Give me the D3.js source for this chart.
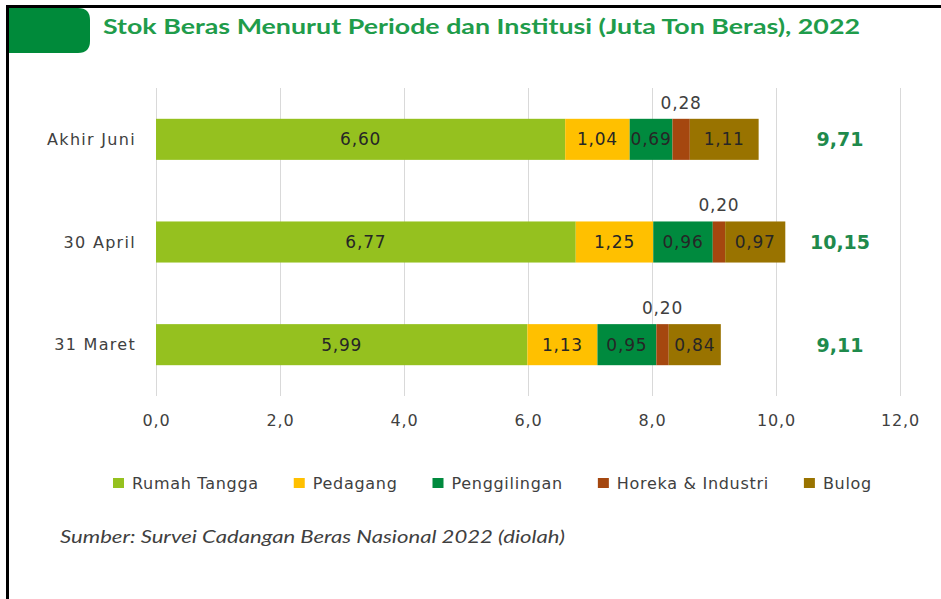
<!DOCTYPE html>
<html>
<head>
<meta charset="utf-8">
<script src="https://cdn.jsdelivr.net/npm/d3@7"></script>
<style>
  body { margin: 0; background: #fff; }
  svg text { font-family: "DejaVu Sans", sans-serif; }
</style>
</head>
<body>
<div id="content"></div>
<script>
// data
var periods = ["Akhir Juni", "30 April", "31 Maret"];
var series = ["Rumah Tangga", "Pedagang", "Penggilingan", "Horeka & Industri", "Bulog"];
var colors = ["#95c11f", "#ffc000", "#008a3e", "#a5470f", "#997300"];
var rumahTangga = [6.60, 6.77, 5.99];
var pedagang = [1.04, 1.25, 1.13];
var penggilingan = [0.69, 0.96, 0.95];
var horeka = [0.28, 0.20, 0.20];
var bulog = [1.11, 0.97, 0.84];
var totals = [9.71, 10.15, 9.11];
var xTicks = [0, 2, 4, 6, 8, 10, 12];

var w = 941, h = 599;
var svg = d3.select("#content").append("svg")
    .attr("width", w)
    .attr("height", h);

var fmt = function(v, d) { return v.toFixed(d).replace(".", ","); };

// frame + title tab
svg.append("line").attr("x1", 7.5).attr("x2", w).attr("y1", 6.5).attr("y2", 6.5)
   .attr("stroke", "#000").attr("stroke-width", 3);
svg.append("line").attr("x1", 7.5).attr("x2", 7.5).attr("y1", 5).attr("y2", h)
   .attr("stroke", "#000").attr("stroke-width", 3);
svg.append("path")
   .attr("d", "M9,8 H78 Q90,8 90,20 V41 Q90,53 78,53 H9 Z")
   .attr("fill", "#008a3a");
svg.append("text")
   .attr("x", 103).attr("y", 34)
   .attr("textLength", 757).attr("lengthAdjust", "spacingAndGlyphs")
   .style("font-family", "Lato, sans-serif")
   .style("font-weight", "bold").style("font-size", "21px")
   .attr("fill", "#1f9c4b")
   .text("Stok Beras Menurut Periode dan Institusi (Juta Ton Beras), 2022");

// scales
var x = d3.scaleLinear().domain([0, 12]).range([156, 900]);
var y = d3.scaleBand().domain(periods).range([88, 396]).paddingInner(0.6).paddingOuter(0.3);

// gridlines
svg.append("g").selectAll("line")
   .data(xTicks).enter().append("line")
   .attr("x1", function(d) { return x(d) + 0.5; })
   .attr("x2", function(d) { return x(d) + 0.5; })
   .attr("y1", 88).attr("y2", 396)
   .attr("stroke", "#d9d9d9").attr("stroke-width", 1);

// x axis labels
var xAxis = d3.axisBottom(x).tickValues(xTicks).tickSize(0).tickPadding(0)
   .tickFormat(function(d) { return fmt(d, 1); });
var gx = svg.append("g").attr("transform", "translate(0,411)").call(xAxis);
gx.select(".domain").remove();
gx.selectAll("text").attr("fill", "#404040").style("font-size", "16px")
   .style("letter-spacing", "0.8px")
   .style("font-family", "DejaVu Sans, sans-serif").attr("dy", "0.95em");

// stacked data
var rows = periods.map(function(p, i) {
    return {period: p, "Rumah Tangga": rumahTangga[i], "Pedagang": pedagang[i],
            "Penggilingan": penggilingan[i], "Horeka & Industri": horeka[i], "Bulog": bulog[i]};
});
var stacked = d3.stack().keys(series)(rows);

var layers = svg.append("g").selectAll("g")
   .data(stacked).enter().append("g")
   .attr("fill", function(d, i) { return colors[i]; });

layers.selectAll("rect")
   .data(function(d) { return d; }).enter().append("rect")
   .attr("x", function(d) { return x(d[0]); })
   .attr("width", function(d) { return x(d[1]) - x(d[0]); })
   .attr("y", function(d) { return y(d.data.period); })
   .attr("height", y.bandwidth());

// segment labels
layers.each(function(layer, li) {
    d3.select(this).selectAll("text")
       .data(layer).enter().append("text")
       .attr("x", function(d) { return (x(d[0]) + x(d[1])) / 2; })
       .attr("y", function(d) {
           return li == 3 ? y(d.data.period) - 10 : y(d.data.period) + y.bandwidth() / 2;
       })
       .attr("dy", li == 3 ? "0" : "0.36em")
       .attr("text-anchor", "middle")
       .attr("fill", li == 3 ? "#404040" : "#262626")
       .style("font-size", "17px").style("letter-spacing", "0.8px")
       .text(function(d) { return fmt(d[1] - d[0], 2); });
});

// period labels
svg.append("g").selectAll("text")
   .data(periods).enter().append("text")
   .attr("x", 136)
   .attr("y", function(d) { return y(d) + y.bandwidth() / 2; })
   .attr("dy", "0.36em")
   .attr("text-anchor", "end")
   .attr("fill", "#404040")
   .style("font-size", "16px").style("letter-spacing", "1.3px")
   .text(function(d) { return d; });

// totals
svg.append("g").selectAll("text")
   .data(totals).enter().append("text")
   .attr("x", 840)
   .attr("y", function(d, i) { return y(periods[i]) + y.bandwidth() / 2; })
   .attr("dy", "0.36em")
   .attr("text-anchor", "middle")
   .attr("fill", "#1f8a4c")
   .style("font-weight", "bold").style("font-size", "19px")
   .text(function(d) { return fmt(d, 2); });

// legend
var legend = svg.append("g").attr("transform", "translate(113,483)");
var lx = 0;
series.forEach(function(s, i) {
    var item = legend.append("g").attr("transform", "translate(" + lx + ",0)");
    item.append("rect").attr("x", 0).attr("y", -5).attr("width", 11).attr("height", 10)
        .attr("fill", colors[i]);
    var t = item.append("text").attr("x", 19).attr("dy", "0.36em")
        .attr("fill", "#404040").style("font-size", "16px").style("letter-spacing", "0.7px")
        .text(s);
    lx += 19 + t.node().getComputedTextLength() + 35;
});

// source
svg.append("text")
   .attr("x", 60).attr("y", 543)
   .attr("textLength", 505).attr("lengthAdjust", "spacingAndGlyphs")
   .style("font-family", "Lato, sans-serif")
   .style("font-style", "italic").style("font-size", "17px")
   .attr("fill", "#404040")
   .text("Sumber: Survei Cadangan Beras Nasional 2022 (diolah)");
</script>
</body>
</html>
